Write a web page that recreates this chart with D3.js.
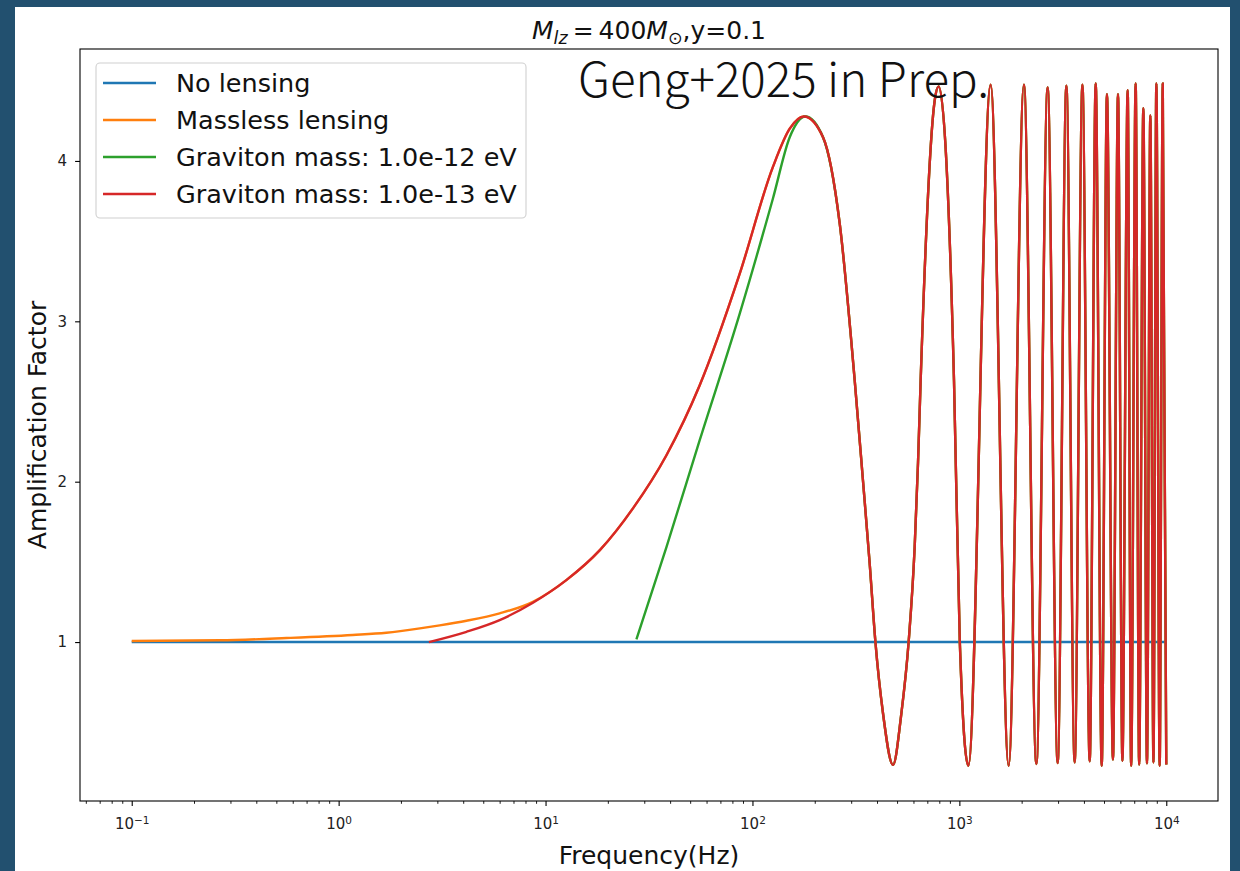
<!DOCTYPE html>
<html>
<head>
<meta charset="utf-8">
<title>Amplification Factor vs Frequency</title>
<script src="https://d3js.org/d3.v7.min.js"></script>
<style>
  body { margin: 0; background: #22506f; }
  .tick text { font-family: "DejaVu Sans", sans-serif; font-size: 15px; fill: #222; }
  .lbl { font-family: "DejaVu Sans", sans-serif; fill: #111; }
</style>
</head>
<body>
<svg id="chart"></svg>
<script>
// --- data ---
var massFreq = [0.1, 0.266, 0.56, 1.17, 1.70, 2.47, 3.08, 4.15, 6.0, 8.69, 12.6, 18.3, 26.5, 38.4, 55.6, 86.8,
  125.6, 151.4, 177.4, 219.3, 264.1, 312, 342, 368.6, 392.8, 427.5, 477.8, 524.5, 568.7, 608.2, 631, 650,
  760, 794, 942, 1005, 1105, 1416, 1731, 2051, 2356, 2671, 2986, 3290, 3608, 3933, 4265, 4560, 4875, 5168,
  5525, 5844, 6137, 6507, 6766, 7112, 7396, 7748, 8068, 8375, 8670, 8955, 9290, 9616, 10000];
var massAmp = [1.007, 1.011, 1.025, 1.044, 1.058, 1.085, 1.104, 1.133, 1.179, 1.251, 1.386, 1.573, 1.835, 2.165, 2.601, 3.297,
  3.963, 4.201, 4.277, 4.148, 3.609, 2.632, 2.009, 1.490, 1.002, 0.556, 0.234, 0.556, 1.002, 1.594, 2.113, 2.632,
  4.377, 4.464, 2.632, 1.0, 0.229, 4.475, 0.229, 4.475, 0.240, 4.458, 0.246, 4.469, 0.250, 4.475, 0.257, 4.483, 0.229, 4.416,
  0.267, 4.416, 0.260, 4.441, 0.229, 4.483, 0.236, 4.329, 0.244, 4.283, 0.250, 4.483, 0.229, 4.483, 0.236];

// graviton mass 1e-13 eV: own branch until it merges with the massless curve
var g13Freq = [2.73, 4.15, 6.0, 8.69];
var g13Amp  = [1.0, 1.064, 1.137, 1.245];
var g13Merge = 12;

// graviton mass 1e-12 eV
var g12Freq = [27.5, 38.4, 55.6, 86.8, 125.6, 151.4, 180.3];
var g12Amp  = [1.017, 1.592, 2.259, 3.048, 3.766, 4.148, 4.277];
var g12Merge = 200;

var noLensFreq = [0.1, 10000];
var noLensAmp  = [1, 1];

var seriesNames  = ["No lensing", "Massless lensing", "Graviton mass: 1.0e-12 eV", "Graviton mass: 1.0e-13 eV"];
var seriesColors = ["#1f77b4", "#ff7f0e", "#2ca02c", "#d62728"];
var xMajor = [-1, 0, 1, 2, 3, 4];
var yTicks = [1, 2, 3, 4];

// --- dimensions ---
var svg_width = 1240, svg_height = 871;
var mL = 80, mR = 1218, mT = 49, mB = 801;

var svg = d3.select("#chart").attr("width", svg_width).attr("height", svg_height);
svg.append("rect").attr("width", svg_width).attr("height", svg_height).attr("fill", "#22506f");
svg.append("rect").attr("x", 15).attr("y", 7).attr("width", 1215).attr("height", svg_height - 7).attr("fill", "#fff");

var x = d3.scaleLog().domain([Math.pow(10, -1.25), Math.pow(10, 4.25)]).range([mL, mR]);
var y = d3.scaleLinear().domain([0.009, 4.698]).range([mB, mT]);

function zip(f, a) { return f.map(function(d, i) { return [d, a[i]]; }); }
var massless = zip(massFreq, massAmp);
var series = [
  zip(noLensFreq, noLensAmp),
  massless,
  zip(g12Freq, g12Amp).concat(massless.filter(function(d) { return d[0] > g12Merge; })),
  zip(g13Freq, g13Amp).concat(massless.filter(function(d) { return d[0] > g13Merge; }))
];

var line = d3.line()
  .x(function(d) { return x(d[0]); })
  .y(function(d) { return y(d[1]); })
  .curve(d3.curveMonotoneX);

svg.append("defs").append("clipPath").attr("id", "clip")
  .append("rect").attr("x", mL).attr("y", mT).attr("width", mR - mL).attr("height", mB - mT);

var plot = svg.append("g").attr("clip-path", "url(#clip)");
series.forEach(function(s, i) {
  plot.append("path").datum(s)
    .attr("d", line)
    .attr("fill", "none")
    .attr("stroke", seriesColors[i])
    .attr("stroke-width", 2.4)
    .attr("stroke-linejoin", "round");
});

// axes
var minor = [];
for (var e = -2; e <= 4; e++) for (var k = 2; k <= 9; k++) {
  var v = k * Math.pow(10, e);
  if (v >= x.domain()[0] && v <= x.domain()[1]) minor.push(v);
}
svg.append("g").attr("transform", "translate(0," + mB + ")")
  .call(d3.axisBottom(x).tickValues(minor).tickSize(2.8).tickFormat(""))
  .call(function(g) { g.select(".domain").remove(); g.selectAll("line").attr("stroke", "#000").attr("stroke-width", 0.9); });

var xAxis = svg.append("g").attr("transform", "translate(0," + mB + ")")
  .call(d3.axisBottom(x).tickValues(xMajor.map(function(p) { return Math.pow(10, p); })).tickSize(4.9).tickPadding(8).tickFormat(""))
  .call(function(g) { g.select(".domain").remove(); g.selectAll("line").attr("stroke", "#000").attr("stroke-width", 1.1); });
xAxis.selectAll(".tick text").each(function(d) {
  var t = d3.select(this).attr("dy", "1em");
  var p = Math.round(Math.log10(d));
  t.append("tspan").text("10");
  t.append("tspan").attr("dy", "-0.45em").attr("font-size", "10.5px").text(p < 0 ? "\u2212" + (-p) : p);
});

svg.append("g").attr("transform", "translate(" + mL + ",0)")
  .call(d3.axisLeft(y).tickValues(yTicks).tickSize(4.9).tickPadding(8).tickFormat(d3.format("d")))
  .call(function(g) { g.select(".domain").remove(); g.selectAll("line").attr("stroke", "#000").attr("stroke-width", 1.1); });

svg.append("rect").attr("x", mL).attr("y", mT).attr("width", mR - mL).attr("height", mB - mT)
  .attr("fill", "none").attr("stroke", "#000").attr("stroke-width", 1.1);

// labels
svg.append("text").attr("class", "lbl").attr("x", (mL + mR) / 2).attr("y", 864)
  .attr("text-anchor", "middle").attr("font-size", 25).text("Frequency(Hz)");
svg.append("text").attr("class", "lbl").attr("transform", "translate(46," + ((mT + mB) / 2) + ") rotate(-90)")
  .attr("text-anchor", "middle").attr("font-size", 25).text("Amplification Factor");

var title = svg.append("text").attr("x", (mL + mR) / 2).attr("y", 39).attr("text-anchor", "middle")
  .attr("font-family", "DejaVu Sans").attr("font-size", 25).attr("fill", "#111");
title.append("tspan").attr("font-style", "italic").text("M");
title.append("tspan").attr("font-style", "italic").attr("font-size", 17.5).attr("dy", 5).text("lz");
title.append("tspan").attr("dy", -5).text("\u2009=\u2009400");
title.append("tspan").attr("font-style", "italic").text("M");
title.append("tspan").attr("font-size", 17.5).attr("dy", 5).text("\u2299");
title.append("tspan").attr("dy", -5).text(",y=0.1");

svg.append("text").attr("x", 578).attr("y", 97).attr("font-family", "Noto Sans CJK SC")
  .attr("font-size", 47.5).attr("font-weight", 300).attr("fill", "#111")
  .text("Geng+2025 in Prep.");

// legend
var lg = svg.append("g");
lg.append("rect").attr("x", 96).attr("y", 63).attr("width", 430).attr("height", 155).attr("rx", 4)
  .attr("fill", "#fff").attr("fill-opacity", 0.8).attr("stroke", "#d0d0d0").attr("stroke-width", 1.1);
seriesNames.forEach(function(n, i) {
  var yy = 83 + i * 37;
  lg.append("line").attr("x1", 103).attr("x2", 156).attr("y1", yy).attr("y2", yy)
    .attr("stroke", seriesColors[i]).attr("stroke-width", 2.4);
  lg.append("text").attr("class", "lbl").attr("x", 176).attr("y", yy).attr("dy", "0.35em")
    .attr("font-size", 25.5).text(n);
});
</script>
</body>
</html>
